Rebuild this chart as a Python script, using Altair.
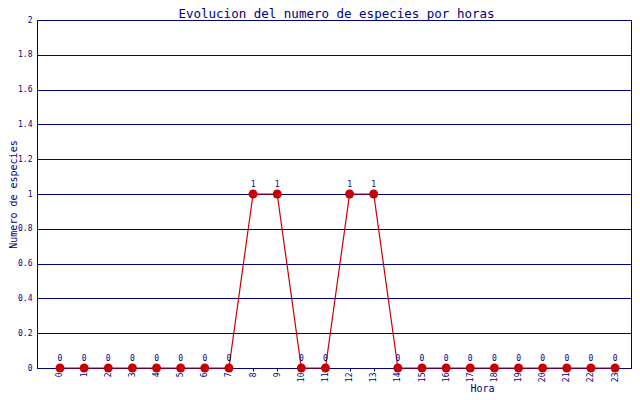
import altair as alt
import pandas as pd

titulo = "Evolucion del numero de especies por horas"
horas = list(range(24))
especies = [0, 0, 0, 0, 0, 0, 0, 0, 1, 1, 0, 0, 1, 1, 0, 0, 0, 0, 0, 0, 0, 0, 0, 0]
y_ticks = [0, 0.2, 0.4, 0.6, 0.8, 1, 1.2, 1.4, 1.6, 1.8, 2]

df = pd.DataFrame({"Hora": horas, "Especies": especies})
df_title = pd.DataFrame({"t": [titulo]})

NAVY = "#000080"
RED = "#c80000"
FONT = "DejaVu Sans Mono"

x_enc = alt.X(
    "Hora:Q",
    scale=alt.Scale(domain=[-0.953, 23.66], nice=False, zero=False),
    axis=alt.Axis(
        values=horas,
        labelAngle=270,
        labelFontSize=8,
        labelPadding=1,
        tickSize=3,
        grid=False,
        title="Hora",
        titleX=445,
        titleY=23,
        titleAlign="center",
        titleBaseline="alphabetic",
        titleFontSize=10,
    ),
)
y_enc = alt.Y(
    "Especies:Q",
    scale=alt.Scale(domain=[0, 2], nice=False),
    axis=alt.Axis(
        values=y_ticks,
        format="~g",
        ticks=False,
        labelPadding=5,
        labelFontSize=8,
        grid=True,
        title="Numero de especies",
        titleFontSize=10,
        titleX=-24,
        titleBaseline="middle",
    ),
)

base = alt.Chart(df)
line = base.mark_line(color=RED, strokeWidth=1.2).encode(x=x_enc, y=y_enc)
pts = base.mark_circle(color=RED, size=80, opacity=1).encode(x=x_enc, y=y_enc)
txt = base.mark_text(
    font=FONT, fontSize=8, color=NAVY, baseline="bottom", dy=-5
).encode(x=x_enc, y=y_enc, text="Especies:Q")

title_mark = alt.Chart(df_title).mark_text(
    font=FONT, fontSize=12.5, color=NAVY, align="center", baseline="alphabetic"
).encode(x=alt.value(299.5), y=alt.value(-2.5), text="t:N")

chart = (
    alt.layer(line, pts, txt, title_mark)
    .properties(
        width=594,
        height=348,
        padding={"left": 29, "top": 12, "right": 1, "bottom": 24},
        autosize=alt.AutoSizeParams(type="none"),
    )
    .configure_view(stroke=NAVY, strokeWidth=1, fill="white")
    .configure_axis(
        labelFont=FONT,
        titleFont=FONT,
        labelColor=NAVY,
        titleColor=NAVY,
        titleFontWeight="normal",
        domainColor=NAVY,
        tickColor=NAVY,
        gridColor=NAVY,
        gridOpacity=1,
        gridWidth=1,
        domainWidth=1,
    )
)

chart.save("out.html", embed_options={"renderer": "svg", "actions": False})
